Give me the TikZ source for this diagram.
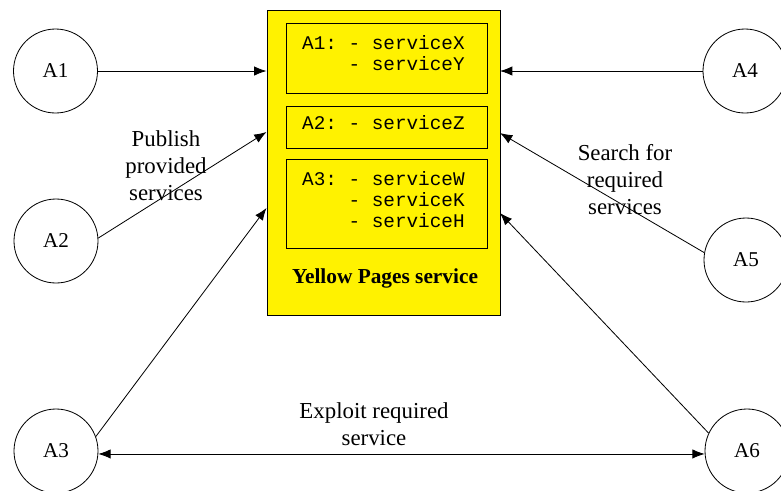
\documentclass[tikz,border=0pt]{standalone}
\usepackage{fontspec}
\setmainfont{Liberation Serif}
\setmonofont{Liberation Mono}
\usetikzlibrary{arrows.meta}
\begin{document}
\begin{tikzpicture}[x=0.03cm, y=-0.03cm,
        agent/.style={circle, draw, line width=0.7pt, minimum size=2.52cm, inner sep=0pt, font=\fontsize{18}{22}\selectfont},
        yp/.style={draw, line width=0.8pt, fill=yellow, minimum width=6.99cm, minimum height=9.15cm, inner sep=0pt},
        slot/.style={draw, line width=0.8pt, minimum width=6.03cm, inner sep=0pt},
        svc/.style={anchor=north west, inner sep=0pt, align=left, font=\ttfamily\fontsize{16.5}{18}\selectfont},
        note/.style={align=center, inner sep=0pt, font=\fontsize{19.5}{23}\selectfont},
        msg/.style={-{Latex[length=10.5pt,width=8pt]}, line width=0.7pt},
        ]
        \useasboundingbox (0,0) rectangle (781,490);
        % Yellow Pages box
        \node[yp] (yp) at (383.5,162.5) {};
        \node[slot, minimum height=2.1cm] (s1) at (386.5,58) {};
        \node[slot, minimum height=1.26cm] (s2) at (386.5,127) {};
        \node[slot, minimum height=2.67cm] (s3) at (386.5,203.5) {};
        \node[svc] (t1) at (302,35) {A1: - serviceX\\\phantom{A1: }- serviceY};
        \node[svc] (t2) at (302,115) {A2: - serviceZ};
        \node[svc] (t3) at (302,171) {A3: - serviceW\\\phantom{A3: }- serviceK\\\phantom{A3: }- serviceH};
        \node[font=\bfseries\fontsize{18.2}{22}\selectfont] (ypl) at (385,278) {Yellow Pages service};
        % agents
        \node[agent] (a1) at (55.5,71) {A1};
        \node[agent] (a2) at (56,241) {A2};
        \node[agent] (a3) at (56,451) {A3};
        \node[agent] (a4) at (745,71) {A4};
        \node[agent] (a5) at (746,260) {A5};
        \node[agent] (a6) at (747,451) {A6};
        % arrow ends on the box
        \coordinate (in1) at (266.5,71);
        \coordinate (in2) at (266.5,132);
        \coordinate (in3) at (266.5,208);
        \coordinate (out1) at (500,71);
        \coordinate (out2) at (500,133);
        \coordinate (out3) at (500,213);
        \draw[msg] (a1) -- (in1);
        \draw[msg] (a2.4) -- (in2);
        \draw[msg] (a3.20) -- (in3);
        \draw[msg] (a4) -- (out1);
        \draw[msg] (a5.170) -- (out2);
        \draw[msg] (a6.155) -- (out3);
        \draw[msg, {Latex[length=10.5pt,width=8pt]}-{Latex[length=10.5pt,width=8pt]}] (a3.-4) -- (a6.184);
        % labels
        \node[note] (pub) at (166,166) {Publish\\provided\\services};
        \node[note] (srch) at (625,180) {Search for\\required\\services};
        \node[note] (expl) at (374,424) {Exploit required\\service};
\end{tikzpicture}
\end{document}
